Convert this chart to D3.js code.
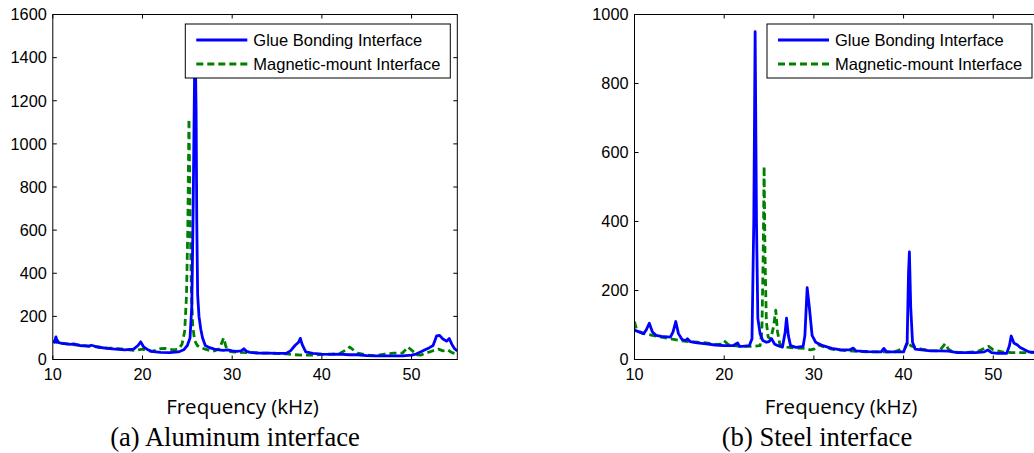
<!DOCTYPE html>
<html>
<head>
<meta charset="utf-8">
<script src="https://cdn.jsdelivr.net/npm/d3@7"></script>
<style>
  body { margin: 0; background: #fff; }
  svg { display: block; }
  .tick-label { font: 16.3px "Liberation Sans", Arial, sans-serif; fill: #000; }
  .legend-text { font: 16.5px "Liberation Sans", Arial, sans-serif; fill: #000; }
  .xlabel { font: 20.5px "Open Sans", sans-serif; fill: #000; }
  .caption { font: 26.6px "Liberation Serif", "Times New Roman", serif; fill: #000; }
</style>
</head>
<body>
<svg id="chart" width="1034" height="453"></svg>
<script>
// frequency (kHz), amplitude
const seriesNames = ["Glue Bonding Interface", "Magnetic-mount Interface"]
const xTicks = [10, 20, 30, 40, 50]
const aluYTicks = [0, 200, 400, 600, 800, 1000, 1200, 1400, 1600]
const steelYTicks = [0, 200, 400, 600, 800, 1000]

const aluGlue = [
  [10.0, 85], [10.2, 80], [10.35, 105], [10.5, 80], [11, 75], [12, 70], [12.3, 72], [13, 65],
  [14, 62], [14.3, 66], [15, 58], [16, 52], [17, 48], [18, 45], [19, 48], [19.5, 65], [19.8, 82],
  [20.1, 60], [20.6, 45], [21, 38], [22, 33], [23, 32], [24, 35], [24.6, 45], [25.0, 65],
  [25.3, 100], [25.5, 250], [25.65, 700], [25.8, 1300], [25.88, 1450], [25.98, 1150], [26.05, 650],
  [26.15, 300], [26.3, 200], [26.5, 140], [26.7, 100], [27, 65], [27.5, 55], [28, 48], [28.5, 45],
  [29, 42], [29.5, 45], [30, 40], [30.5, 38], [31, 40], [31.3, 50], [31.6, 38], [32, 33], [33, 30],
  [34, 30], [35, 28], [36, 28], [36.5, 40], [37, 65], [37.4, 80], [37.6, 98], [37.8, 70], [38.2, 35],
  [39, 28], [40, 25], [41, 24], [42, 25], [43, 22], [44, 22], [45, 18], [46, 17], [47, 17], [48, 17],
  [49, 17], [50, 20], [50.5, 25], [51, 35], [51.5, 45], [52, 55], [52.4, 65], [52.8, 110],
  [53.1, 112], [53.5, 95], [53.9, 85], [54.2, 97], [54.5, 70], [54.8, 50], [55.1, 40]
]

const aluMagnetic = [
  [10.0, 85], [10.4, 80], [10.8, 90], [11.1, 75], [12, 70], [13, 66], [14, 62], [15, 58], [16, 54],
  [17, 52], [18, 48], [19, 42], [19.5, 45], [20, 48], [20.5, 42], [21, 38], [21.5, 42], [22, 50],
  [22.5, 52], [23, 48], [23.5, 45], [24, 48], [24.4, 70], [24.7, 130], [24.9, 290], [25.05, 600],
  [25.18, 1115], [25.3, 700], [25.45, 320], [25.6, 160], [25.8, 90], [26.1, 65], [26.5, 55], [27, 48],
  [27.5, 42], [28, 40], [28.6, 50], [28.9, 85], [29.05, 100], [29.3, 60], [29.6, 40], [30, 35],
  [31, 33], [32, 32], [33, 30], [34, 30], [35, 28], [36, 26], [37, 22], [38, 20], [39, 20], [40, 24],
  [41, 25], [42, 28], [42.7, 45], [43.1, 58], [43.5, 45], [44, 30], [45, 20], [46, 18], [47, 25],
  [48, 30], [49, 30], [49.6, 58], [50.1, 40], [50.6, 22], [51, 20], [51.5, 28], [52, 35], [52.5, 42],
  [53, 48], [53.5, 40], [54, 45], [54.5, 32], [55.1, 25]
]

const steelGlue = [
  [10.0, 85], [10.5, 80], [11, 75], [11.3, 85], [11.65, 105], [12, 80], [12.4, 70], [13, 67],
  [14, 65], [14.3, 80], [14.6, 110], [14.9, 75], [15.3, 58], [15.7, 55], [15.9, 60], [16.2, 52],
  [17, 48], [18, 45], [19, 42], [20, 40], [21, 40], [21.3, 45], [21.5, 48], [21.7, 38], [22, 38],
  [22.8, 40], [23.1, 60], [23.3, 400], [23.45, 950], [23.6, 400], [23.75, 120], [24.0, 75],
  [24.3, 55], [24.7, 50], [25.0, 52], [25.3, 60], [25.6, 45], [26.0, 40], [26.5, 36], [26.8, 80],
  [26.95, 120], [27.15, 70], [27.4, 40], [28, 35], [28.8, 38], [29.0, 70], [29.25, 208], [29.5, 150],
  [29.8, 70], [30.2, 50], [30.6, 45], [31, 40], [32, 32], [33, 28], [34, 28], [34.4, 33], [34.7, 25],
  [36, 23], [37.5, 22], [37.8, 32], [38.1, 22], [40, 22], [40.4, 50], [40.55, 250], [40.65, 312],
  [40.8, 150], [41.0, 50], [41.3, 30], [42, 28], [43, 25], [44, 25], [45, 24], [46, 20], [47, 20],
  [48, 20], [49, 22], [49.4, 28], [49.8, 20], [50.5, 18], [51.5, 18], [51.8, 40], [52.0, 68],
  [52.3, 48], [52.7, 42], [53, 35], [53.5, 28], [54, 22], [55, 20]
]

const steelMagnetic = [
  [10.0, 110], [10.2, 90], [10.6, 80], [11, 75], [12, 70], [13, 65], [14, 60], [15, 55], [16, 52],
  [17, 50], [18, 48], [19, 44], [20, 45], [20.1, 52], [20.4, 44], [21, 40], [22, 38], [23, 38],
  [24, 40], [24.2, 80], [24.35, 300], [24.45, 560], [24.55, 300], [24.7, 110], [24.9, 65], [25.2, 60],
  [25.5, 95], [25.75, 143], [25.95, 80], [26.2, 45], [26.6, 38], [27, 36], [28, 33], [29, 32],
  [29.6, 28], [30, 30], [30.5, 42], [31, 38], [31.5, 34], [32, 30], [33, 27], [34, 25], [35, 23],
  [37, 22], [39, 22], [40.2, 35], [40.5, 52], [40.8, 40], [41.3, 35], [42, 30], [43, 26], [44, 25],
  [44.65, 46], [45, 30], [45.5, 22], [46.5, 20], [48, 22], [48.5, 26], [49.5, 38], [50, 28], [51, 22],
  [52, 20], [53, 20], [54, 20], [55, 22]
]

const svg = d3.select("#chart")

const drawPanel = (p) => {
  const x = d3.scaleLinear().domain([10, 55.1]).range([p.left, p.left + 404.5])
  const y = d3.scaleLinear().domain([0, p.yMax]).range([359.5, 14.5])
  const [x0, x1] = x.range()
  const [y0, y1] = y.range()
  const g = svg.append("g")

  const clipId = "clip-" + p.id
  g.append("clipPath").attr("id", clipId)
    .append("rect").attr("x", x0).attr("y", y1).attr("width", x1 - x0).attr("height", y0 - y1)

  const line = d3.line().x(d => x(d[0])).y(d => y(d[1]))

  g.append("path")
    .datum(p.magnetic)
    .attr("clip-path", `url(#${clipId})`)
    .attr("d", line)
    .attr("fill", "none")
    .attr("stroke", "#008000")
    .attr("stroke-width", 2.8)
    .attr("stroke-dasharray", "7,4")
    .attr("stroke-linejoin", "round")

  g.append("path")
    .datum(p.glue)
    .attr("clip-path", `url(#${clipId})`)
    .attr("d", line)
    .attr("fill", "none")
    .attr("stroke", "#0000ff")
    .attr("stroke-width", 2.8)
    .attr("stroke-linejoin", "round")

  // box with inward ticks on all four sides
  const tick = 4
  g.append("rect")
    .attr("x", x0).attr("y", y1).attr("width", x1 - x0).attr("height", y0 - y1)
    .attr("fill", "none").attr("stroke", "#000").attr("stroke-width", 1)

  g.selectAll(".xt").data(xTicks).enter().append("path")
    .attr("d", d => `M${x(d)},${y0}v${-tick}M${x(d)},${y1}v${tick}`)
    .attr("stroke", "#000")
  g.selectAll(".yt").data(p.yTicks).enter().append("path")
    .attr("d", d => `M${x0},${y(d)}h${tick}M${x1},${y(d)}h${-tick}`)
    .attr("stroke", "#000")

  g.selectAll(".xl").data(xTicks).enter().append("text")
    .attr("class", "tick-label")
    .attr("x", d => x(d))
    .attr("y", 380)
    .attr("text-anchor", "middle")
    .text(d => d)
  g.selectAll(".yl").data(p.yTicks).enter().append("text")
    .attr("class", "tick-label")
    .attr("x", x0 - 6)
    .attr("y", d => y(d))
    .attr("dy", "0.36em")
    .attr("text-anchor", "end")
    .text(d => d)

  // legend
  const lx = x1 - 272, ly = 24
  const lg = g.append("g").attr("transform", `translate(${lx},${ly})`)
  lg.append("rect").attr("width", 265).attr("height", 54)
    .attr("fill", "#fff").attr("stroke", "#000").attr("stroke-width", 1)
  const rows = [
    { name: seriesNames[0], color: "#0000ff", dash: null },
    { name: seriesNames[1], color: "#008000", dash: "7,4" }
  ]
  rows.forEach((r, i) => {
    const ry = 16 + i * 24
    lg.append("line")
      .attr("x1", 11).attr("x2", 62).attr("y1", ry).attr("y2", ry)
      .attr("stroke", r.color).attr("stroke-width", 2.8)
      .attr("stroke-dasharray", r.dash)
    lg.append("text").attr("class", "legend-text")
      .attr("x", 68).attr("y", ry).attr("dy", "0.36em")
      .text(r.name)
  })

  svg.append("text").attr("class", "xlabel")
    .attr("x", p.labelX).attr("y", 414)
    .attr("text-anchor", "middle")
    .text("Frequency (kHz)")
  svg.append("text").attr("class", "caption")
    .attr("x", p.captionX).attr("y", 446)
    .attr("text-anchor", "middle")
    .text(p.caption)
}

drawPanel({ id: "a", left: 52.8, yMax: 1600, yTicks: aluYTicks, glue: aluGlue, magnetic: aluMagnetic,
  labelX: 242.5, captionX: 235, caption: "(a) Aluminum interface" })
drawPanel({ id: "b", left: 634.5, yMax: 1000, yTicks: steelYTicks, glue: steelGlue, magnetic: steelMagnetic,
  labelX: 841, captionX: 817, caption: "(b) Steel interface" })
</script>
</body>
</html>
